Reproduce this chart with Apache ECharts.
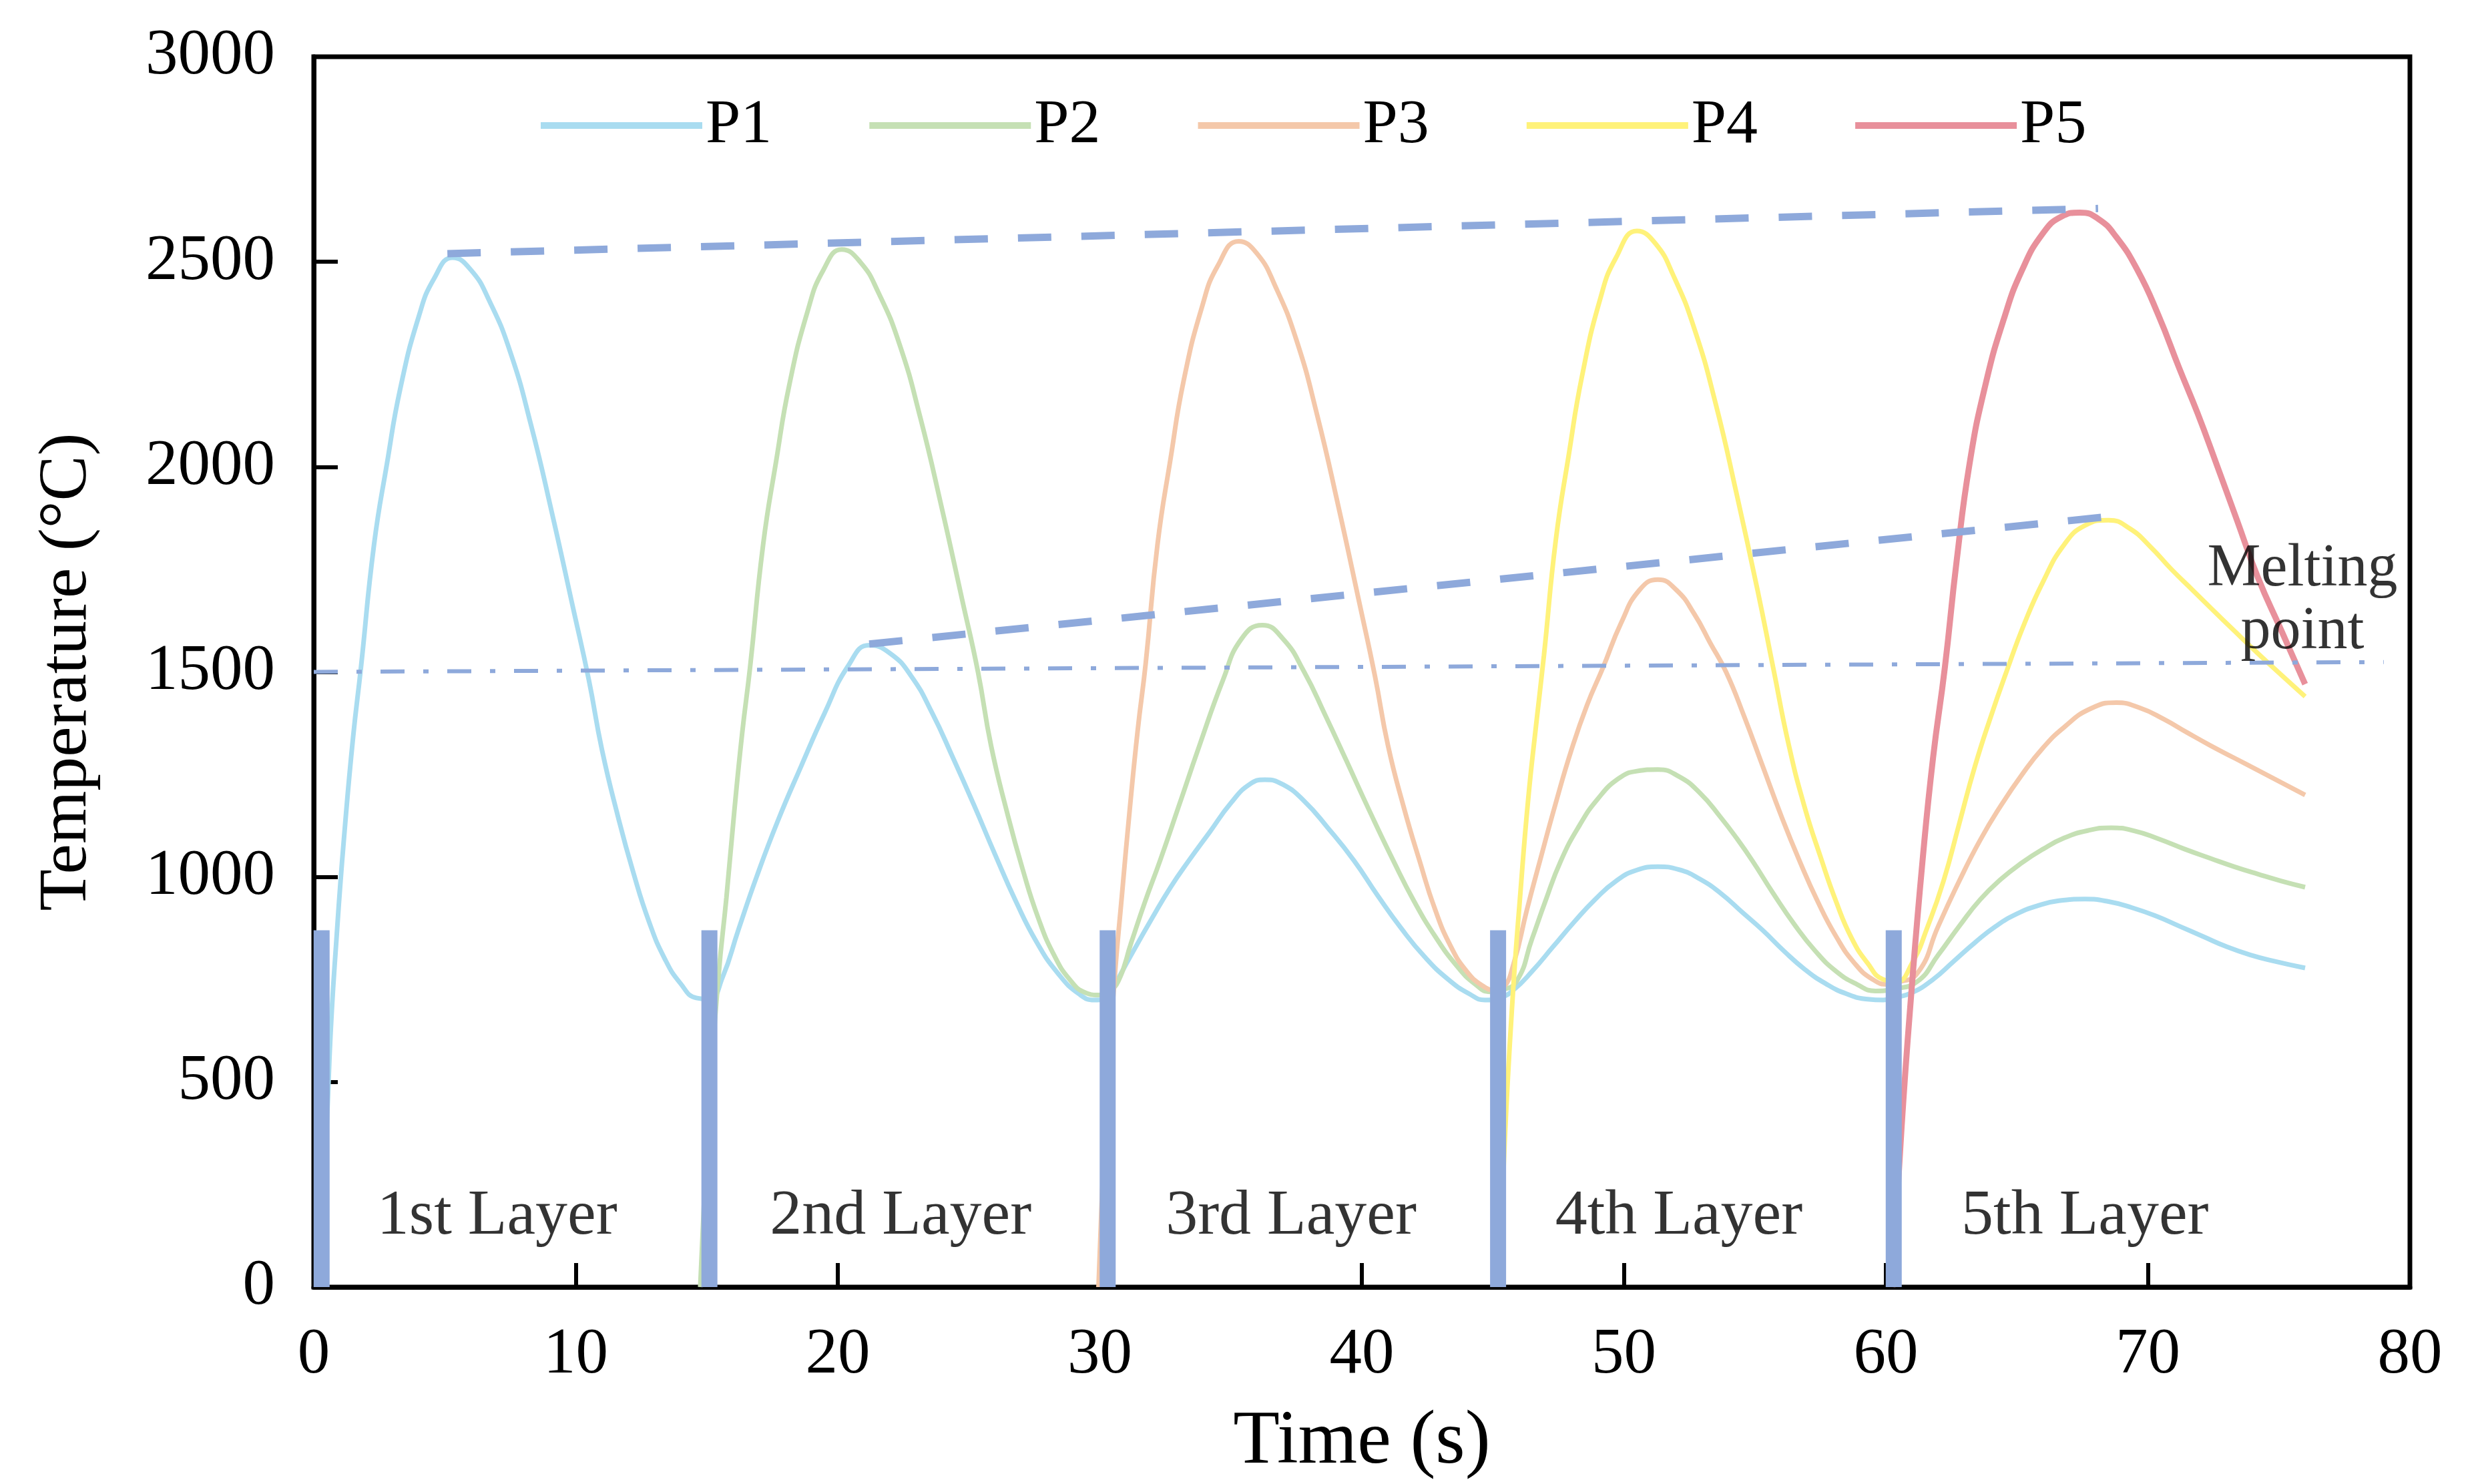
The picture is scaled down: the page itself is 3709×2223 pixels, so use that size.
<!DOCTYPE html>
<html>
<head>
<meta charset="utf-8">
<script src="https://cdn.jsdelivr.net/npm/echarts@6/dist/echarts.min.js"></script>
<style>html,body{margin:0;padding:0;background:#fff;}#c{width:3709px;height:2223px;}</style>
</head>
<body>
<div id="c"></div>
<script>
const seriesNames = ['P1', 'P2', 'P3', 'P4', 'P5'];
const P1 = [[0.3,0],[0.6,560],[0.9,880],[1.2,1130],[1.5,1340],[1.8,1510],[2.3,1810],[2.8,2010],[3.3,2190],[4.0,2365],[4.6,2460],[5.3,2510],[6.0,2480],[6.7,2405],[7.5,2280],[8.3,2100],[9.1,1885],[9.9,1655],[10.5,1480],[11.0,1310],[11.6,1150],[12.2,1010],[12.8,890],[13.4,800],[14.0,740],[14.6,705],[15.1,702],
  [15.6,755],[16.2,870],[16.9,1000],[17.7,1135],[18.6,1270],[19.5,1400],[20.4,1515],[21.2,1565],[22.0,1545],[22.8,1490],[23.6,1400],[24.4,1290],[25.2,1175],[26.0,1055],[26.8,940],[27.6,840],[28.4,765],[29.2,715],[29.8,700],[30.3,705],
  [30.6,740],[31.2,810],[32.0,900],[32.7,975],[33.4,1040],[34.2,1110],[35.0,1180],[35.7,1225],[36.3,1237],[37.0,1225],[37.8,1185],[38.7,1120],[39.7,1040],[40.6,955],[41.5,875],[42.4,805],[43.3,750],[44.1,715],[44.7,700],[45.3,706],
  [45.8,725],[46.5,770],[47.3,830],[48.1,890],[48.9,945],[49.7,990],[50.5,1017],[51.3,1025],[52.1,1018],[52.9,995],[53.7,960],[54.5,915],[55.3,870],[56.1,820],[56.9,775],[57.7,740],[58.5,715],[59.3,702],[59.9,700],[60.3,705],
  [61.0,718],[61.8,750],[62.6,795],[63.4,840],[64.2,880],[65.0,910],[65.8,930],[66.6,942],[67.6,946],[68.5,940],[69.4,925],[70.3,905],[71.2,880],[72.1,855],[73.0,830],[73.9,810],[74.8,795],[76.0,778]];
const P2 = [[14.75,0],[15.1,450],[15.45,760],[15.75,950],[16.05,1160],[16.35,1350],[16.65,1510],[17.15,1810],[17.65,2015],[18.15,2200],[18.85,2380],[19.45,2480],[20.15,2530],[20.85,2500],[21.55,2425],[22.35,2300],[23.15,2120],[23.95,1905],[24.75,1675],[25.35,1500],[25.85,1320],[26.45,1160],[27.05,1020],[27.65,900],[28.25,810],[28.85,750],[29.45,718],[30.0,712],[30.3,720],
  [30.7,745],[31.2,840],[31.7,935],[32.3,1040],[33.0,1170],[33.8,1320],[34.7,1480],[35.4,1580],[36.2,1614],[37.0,1580],[37.8,1500],[38.6,1395],[39.4,1285],[40.3,1160],[41.2,1040],[42.0,940],[42.8,855],[43.6,785],[44.3,740],[44.9,720],[45.3,724],
  [45.9,745],[46.5,850],[47.0,940],[47.6,1040],[48.3,1125],[49.0,1190],[49.8,1240],[50.5,1258],[51.3,1262],[52.1,1245],[52.9,1205],[53.7,1145],[54.3,1095],[54.9,1040],[55.7,960],[56.5,885],[57.3,820],[58.1,770],[58.9,738],[59.6,722],[60.3,727],
  [61.2,745],[62.0,810],[62.8,880],[63.6,945],[64.4,995],[65.2,1035],[66.0,1068],[66.8,1095],[67.7,1113],[68.6,1120],[69.5,1112],[70.4,1093],[71.4,1068],[72.4,1045],[73.3,1025],[74.2,1007],[75.1,990],[76.0,975]];
const P3 = [[29.95,0],[30.25,450],[30.55,740],[30.85,960],[31.15,1170],[31.45,1360],[31.75,1520],[32.2,1810],[32.7,2020],[33.2,2210],[33.9,2390],[34.5,2490],[35.3,2550],[36.0,2520],[36.7,2440],[37.5,2310],[38.3,2125],[39.1,1905],[39.9,1670],[40.5,1490],[41.0,1320],[41.6,1170],[42.2,1040],[42.8,920],[43.4,830],[44.0,770],[44.6,735],[45.1,724],[45.4,730],
  [45.8,790],[46.3,920],[46.8,1040],[47.4,1180],[48.0,1310],[48.6,1420],[49.2,1510],[49.9,1620],[50.6,1700],[51.3,1725],[52.0,1700],[52.7,1640],[53.3,1570],[53.9,1500],[54.6,1390],[55.3,1270],[56.0,1150],[56.7,1040],[57.4,940],[58.1,855],[58.8,790],[59.5,750],[60.1,738],[60.4,742],
  [61.2,765],[62.0,880],[62.8,990],[63.6,1090],[64.4,1175],[65.2,1250],[66.0,1315],[66.8,1365],[67.8,1410],[68.8,1425],[69.7,1412],[70.6,1385],[71.5,1352],[72.4,1320],[73.3,1290],[74.2,1260],[75.1,1230],[76.0,1200]];
const P4 = [[45.25,0],[45.45,350],[45.75,700],[46.05,960],[46.35,1190],[46.65,1370],[46.95,1540],[47.4,1820],[47.9,2030],[48.4,2220],[49.1,2410],[49.7,2510],[50.5,2575],[51.2,2545],[51.9,2465],[52.7,2335],[53.5,2155],[54.3,1935],[55.1,1700],[55.7,1510],[56.3,1320],[56.9,1170],[57.5,1050],[58.1,940],[58.7,850],[59.3,790],[59.9,750],[60.4,745],
  [61.0,790],[61.6,880],[62.2,990],[62.8,1130],[63.4,1270],[64.0,1390],[64.6,1500],[65.3,1620],[66.0,1720],[66.8,1810],[67.6,1857],[68.5,1870],[69.3,1850],[70.1,1805],[70.9,1750],[71.7,1700],[72.4,1656],[73.3,1600],[74.2,1545],[75.1,1492],[76.0,1440]];
const P5 = [[60.25,0],[60.6,390],[61.0,740],[61.4,1040],[61.8,1290],[62.25,1510],[62.7,1770],[63.2,2010],[63.8,2200],[64.5,2360],[65.2,2480],[66.0,2570],[66.7,2610],[67.4,2620],[68.1,2605],[68.8,2560],[69.6,2480],[70.4,2370],[71.2,2240],[71.9,2130],[72.6,2010],[73.4,1870],[74.2,1730],[75.1,1600],[76.0,1470]];
const upperEnvelope = [[5.1,2520],[68.1,2630]];
const lowerEnvelope = [[21.2,1568],[68.4,1878]];
const meltingLine = [[0,1500],[79,1524]];
const layerStarts = [0.3, 15.1, 30.3, 45.2, 60.3];
const layerBarTop = 870;
const layerNames = ['1st Layer', '2nd Layer', '3rd Layer', '4th Layer', '5th Layer'];
const layerLabelX = [7.0, 22.4, 37.3, 52.1, 67.6];
const layerLabelY = 172;
const meltingLabel = [75.9, 1673];
const xTicks = [0, 10, 20, 30, 40, 50, 60, 70, 80];
const yTicks = [0, 500, 1000, 1500, 2000, 2500, 3000];

const FONT = 'Liberation Serif';
const colors = ['#a9dcf0', '#c5e0b4', '#f4c8aa', '#fff27a', '#e8909b'];
const widths = [7, 7, 7, 7, 9];
const accent = '#8ea9db';
const allSeries = [P1, P2, P3, P4, P5];

const chart = echarts.init(document.getElementById('c'), null, {renderer: 'canvas'});
const series = [];
allSeries.forEach((d, i) => {
  series.push({
    name: seriesNames[i], type: 'line', data: d, showSymbol: false, symbol: 'none',
    smooth: 0.5, z: 2 + i * 0.1,
    lineStyle: {color: colors[i], width: widths[i]}, itemStyle: {color: colors[i]}
  });
});
series.push({
  type: 'bar', data: layerStarts.map(x => [x, layerBarTop]), barWidth: 24, z: 5,
  itemStyle: {color: accent}, silent: true
});
series.push({
  type: 'line', data: upperEnvelope, symbol: 'none', z: 6,
  lineStyle: {color: accent, width: 11, type: [50, 45]}
});
series.push({
  type: 'line', data: lowerEnvelope, symbol: 'none', z: 6,
  lineStyle: {color: accent, width: 11, type: [50, 45]}
});
series.push({
  type: 'line', data: meltingLine, symbol: 'none', z: 6,
  lineStyle: {color: accent, width: 6, type: [36, 28, 8, 28]}
});
series.push({
  type: 'scatter', symbolSize: 0, z: 7, silent: true,
  data: layerNames.map((n, i) => ({name: n, value: [layerLabelX[i], layerLabelY]})),
  label: {show: true, position: 'inside', formatter: p => p.name, color: '#000', fontFamily: FONT, fontSize: 96}
});
series.push({
  type: 'scatter', symbolSize: 0, z: 7, silent: true,
  data: [{name: 'Melting\npoint', value: meltingLabel}],
  label: {show: true, position: 'inside', formatter: p => p.name, color: '#000', fontFamily: FONT, fontSize: 90, lineHeight: 94, align: 'center'}
});

chart.setOption({
  animation: false,
  backgroundColor: '#fff',
  grid: {left: 470, right: 99, top: 85, bottom: 273, show: true, borderColor: '#000', borderWidth: 7, backgroundColor: 'transparent'},
  legend: {
    data: seriesNames, left: 805, top: 136, icon: 'rect', itemWidth: 242, itemHeight: 10, itemGap: 146,
    textStyle: {fontFamily: FONT, fontSize: 94, color: '#000'}
  },
  xAxis: {
    type: 'value', min: xTicks[0], max: xTicks[xTicks.length - 1], interval: 10,
    name: 'Time (s)', nameLocation: 'middle', nameGap: 176,
    nameTextStyle: {fontFamily: FONT, fontSize: 114, color: '#000'},
    axisLine: {show: true, lineStyle: {color: '#000', width: 7}},
    axisTick: {show: true, inside: true, length: 36, lineStyle: {color: '#000', width: 6}},
    axisLabel: {fontFamily: FONT, fontSize: 97, color: '#000', margin: 54, formatter: v => String(v)},
    splitLine: {show: false}
  },
  yAxis: {
    type: 'value', min: yTicks[0], max: yTicks[yTicks.length - 1], interval: 500,
    name: 'Temperature (°C)', nameLocation: 'middle', nameGap: 318,
    nameTextStyle: {fontFamily: FONT, fontSize: 102, color: '#000'},
    axisLine: {show: true, lineStyle: {color: '#000', width: 7}},
    axisTick: {show: true, inside: true, length: 36, lineStyle: {color: '#000', width: 6}},
    axisLabel: {fontFamily: FONT, fontSize: 97, color: '#000', margin: 58, formatter: v => String(v)},
    splitLine: {show: false}
  },
  series: series
});
</script>
</body>
</html>
